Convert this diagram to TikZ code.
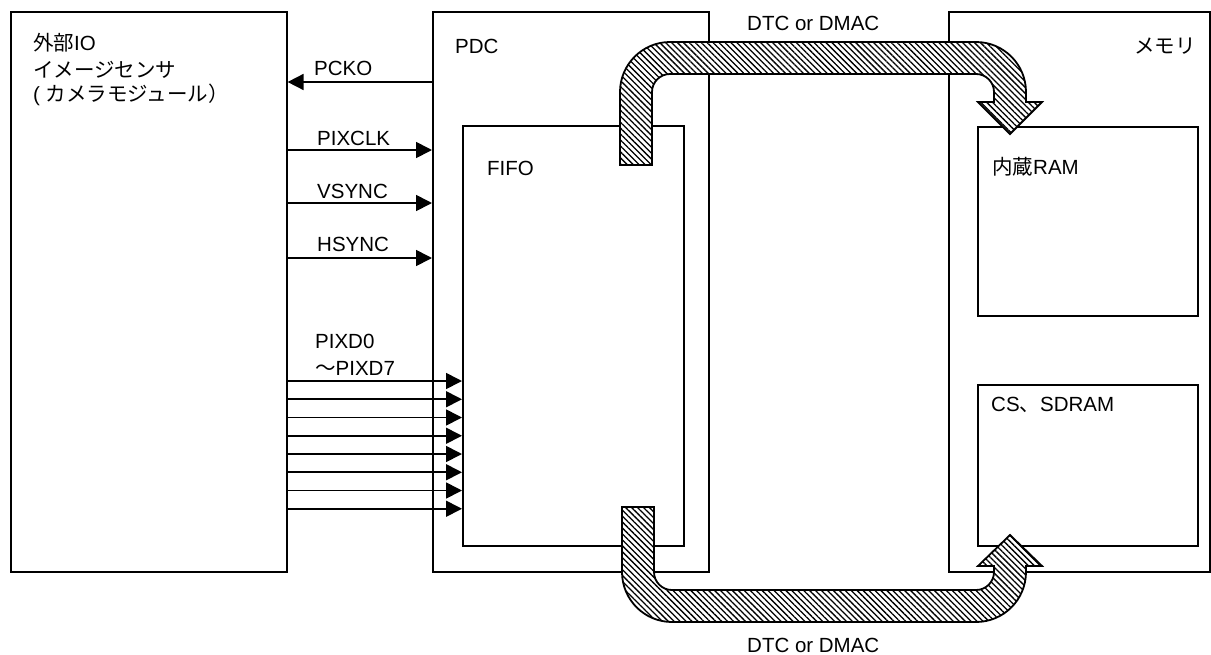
\documentclass[tikz,border=0pt]{standalone}
\usepackage{fontspec}
\setmainfont{Liberation Sans}
\newfontfamily\jp{Noto Sans CJK JP}
\usetikzlibrary{arrows.meta,patterns.meta}
\tikzset{
  box/.style={draw, line width=1.6pt, minimum width=#1, anchor=north west, inner sep=0pt},
  lbl/.style={anchor=base west, inner sep=0pt, font=\fontsize{20.5}{24}\selectfont},
  sig/.style={line width=1.7pt, -{Triangle[length=16pt,width=16pt]}},
  dma/.style={line width=1.8pt, line join=miter, preaction={fill=white},
    pattern={Lines[angle=-45,distance=4.2pt,line width=1.3pt]}},
}
\begin{document}
\begin{tikzpicture}[x=1pt,y=-1pt]
\useasboundingbox (0,0) rectangle (1211,654);
% boxes
\node[box=276pt, minimum height=560pt] (ext) at (10,11) {};
\node[box=276pt, minimum height=560pt] (pdc) at (432,11) {};
\node[box=221pt, minimum height=420pt] (fifo) at (462,125) {};
\node[box=261pt, minimum height=560pt] (mem) at (948,11) {};
\node[box=220pt, minimum height=189pt] (ram) at (977,126) {};
\node[box=220pt, minimum height=161pt] (sdram) at (977,384) {};
% signal levels
\coordinate (yPCKO) at (0,82);
\coordinate (yPIXCLK) at (0,150);
\coordinate (yVSYNC) at (0,203);
\coordinate (yHSYNC) at (0,258);
\draw[sig] (pdc.west |- yPCKO) -- (ext.east |- yPCKO);
\draw[sig] (ext.east |- yPIXCLK) -- (pdc.west |- yPIXCLK);
\draw[sig] (ext.east |- yVSYNC) -- (pdc.west |- yVSYNC);
\draw[sig] (ext.east |- yHSYNC) -- (pdc.west |- yHSYNC);
\foreach \i in {0,...,7}{
  \coordinate (d\i) at (0,{381+18.25*\i});
  \draw[sig] (ext.east |- d\i) -- (fifo.west |- d\i);
}
% DTC/DMAC transfer arrows
\draw[dma] (620,165) -- (620,92) arc[start angle=180,end angle=270,radius=50]
  -- (976,42) arc[start angle=270,end angle=360,radius=50]
  -- (1026,102) -- (1042,102) -- (1010,134) -- (978,102) -- (994,102)
  -- (994,92) arc[start angle=0,end angle=-90,radius=18]
  -- (670,74) arc[start angle=270,end angle=180,radius=18]
  -- (652,165) -- cycle;
\draw[dma] (622,507) -- (622,572) arc[start angle=180,end angle=90,radius=50]
  -- (976,622) arc[start angle=90,end angle=0,radius=50]
  -- (1026,566) -- (1042,566) -- (1010,535) -- (978,566) -- (994,566)
  -- (994,572) arc[start angle=0,end angle=90,radius=18]
  -- (672,590) arc[start angle=90,end angle=180,radius=18]
  -- (654,507) -- cycle;
% labels
\node[lbl] (t1) at (33,50) {{\jp 外部}IO};
\node[lbl] (t2) at (33,77) {\jp イメージセンサ};
\node[lbl] (t3) at (33,101) {( {\jp カメラモジュール）}};
\node[lbl] (tpdc) at (455,53) {PDC};
\node[lbl] (tfifo) at (487,175) {FIFO};
\node[lbl] (tpcko) at (314,75) {PCKO};
\node[lbl] (tpixclk) at (317,145) {PIXCLK};
\node[lbl] (tvsync) at (317,198) {VSYNC};
\node[lbl] (thsync) at (317,251) {HSYNC};
\node[lbl] (tpixd0) at (315,348) {PIXD0};
\node[lbl] (tpixd7) at (315,375) {{\jp ～}PIXD7};
\node[lbl] (tdtc1) at (747,30) {DTC or DMAC};
\node[lbl] (tdtc2) at (747,652) {DTC or DMAC};
\node[lbl] (tmem) at (1134,53) {\jp メモリ};
\node[lbl] (tram) at (992,174) {{\jp 内蔵}RAM};
\node[lbl] (tsd) at (991,411) {CS{\jp 、}SDRAM};
\end{tikzpicture}
\end{document}
